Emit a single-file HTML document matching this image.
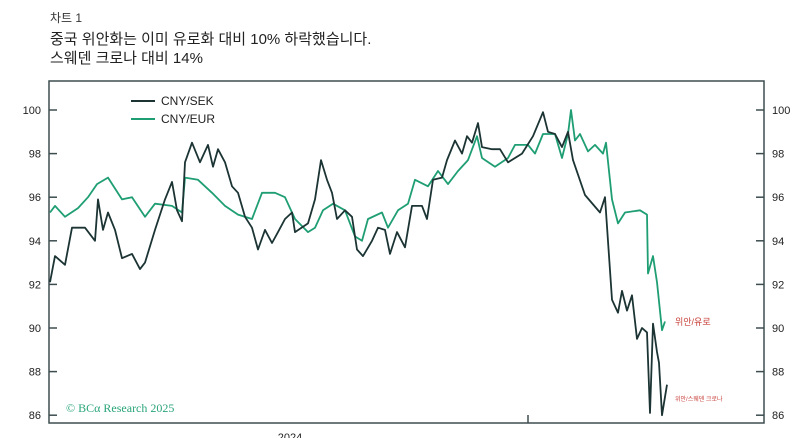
<!DOCTYPE html>
<html><head><meta charset="utf-8">
<style>
html,body{margin:0;padding:0;background:#fff;}
body{width:804px;height:438px;overflow:hidden;position:relative;font-family:"Liberation Sans","Noto Sans CJK KR",sans-serif;}
.t{position:absolute;color:#222;white-space:nowrap;}
</style></head>
<body>
<div class="t" style="left:50px;top:9px;font-size:12px;color:#333;">차트 1</div>
<div class="t" style="left:50px;top:30px;font-size:15px;line-height:19px;color:#222;">중국 위안화는 이미 유로화 대비 10% 하락했습니다.<br>스웨덴 크로나 대비 14%</div>
<svg id="chart" width="804" height="438" style="position:absolute;left:0;top:0;" xmlns="http://www.w3.org/2000/svg"></svg>
<script>
const sekDays=[0,5,15,22,35,45,48,53,58,65,72,82,90,95,105,115,122,127,132,135,142,150,158,163,168,175,182,188,195,202,208,215,222,228,235,242,245,258,265,271,277,282,287,295,302,307,313,322,328,335,340,347,355,362,372,377,383,392,397,405,412,417,422,428,432,442,450,458,472,483,493,498,505,512,518,523,535,550,555,562,568,572,577,582,587,592,597,600,603,607,609,612,617];
const sekValues=[92.1,93.3,92.9,94.6,94.6,94.0,95.9,94.5,95.3,94.5,93.2,93.4,92.7,93.0,94.5,95.9,96.7,95.4,94.9,97.6,98.5,97.6,98.4,97.4,98.2,97.6,96.5,96.2,95.1,94.6,93.6,94.5,93.9,94.4,95.0,95.3,94.4,94.8,95.9,97.7,96.8,96.2,95.0,95.4,95.1,93.6,93.3,94.0,94.6,94.5,93.4,94.4,93.7,95.6,95.6,95.0,96.8,96.9,97.7,98.6,98.0,98.8,98.5,99.4,98.3,98.2,98.2,97.6,98.0,98.8,99.9,99.0,98.9,98.3,99.0,97.7,96.1,95.3,96.0,91.3,90.7,91.7,90.8,91.5,89.5,90.0,89.8,86.1,90.2,88.9,88.4,86.0,87.4];
const eurDays=[0,5,15,28,38,47,58,72,82,95,105,122,132,135,148,162,175,188,202,212,225,235,245,258,265,273,283,295,305,312,318,332,338,348,358,365,378,388,398,408,418,427,432,445,458,465,478,485,493,505,512,518,521,525,530,538,545,553,556,562,568,575,590,597,598,603,607,612,615];
const eurValues=[95.3,95.6,95.1,95.5,96.0,96.6,96.9,95.9,96.0,95.1,95.7,95.6,95.3,96.9,96.8,96.2,95.6,95.2,95.0,96.2,96.2,96.0,95.0,94.4,94.6,95.4,95.7,95.4,94.2,94.0,95.0,95.3,94.6,95.4,95.7,96.8,96.5,97.2,96.6,97.2,97.7,98.8,97.8,97.4,97.8,98.4,98.4,98.0,98.9,98.9,97.8,98.9,100.0,98.6,98.9,98.1,98.4,98.0,98.5,95.9,94.8,95.3,95.4,95.2,92.5,93.3,92.1,89.9,90.3];
const yTicks=[86,88,90,92,94,96,98,100];

const svg=document.getElementById('chart');
const NS='http://www.w3.org/2000/svg';
const L=49,R=764,T=81,B=423;
const xS=d=>50+d*(617/617);
const yS=v=>110+(100-v)*21.8;
function mk(tag,attrs){const e=document.createElementNS(NS,tag);for(const k in attrs)e.setAttribute(k,attrs[k]);svg.appendChild(e);return e;}
const frame=mk('rect',{x:L,y:T,width:R-L,height:B-T,fill:'none',stroke:'#3d4d4f','stroke-width':1.5});


yTicks.forEach(v=>{
  const y=yS(v);
  const tl=mk('line',{x1:L,x2:L+8,y1:y,y2:y,stroke:'#3d4d4f','stroke-width':1.5});
  
  
  const tr=mk('line',{x1:R-8,x2:R,y1:y,y2:y,stroke:'#3d4d4f','stroke-width':1.5});
  
  
  const a=mk('text',{x:41,y:y+4,'text-anchor':'end','font-size':11,fill:'#222','font-family':'Liberation Sans, sans-serif'});
  a.textContent=v;
  
  
  const b=mk('text',{x:772,y:y+4,'font-size':11,fill:'#222','font-family':'Liberation Sans, sans-serif'});
  b.textContent=v;
  
  
});
const xt=mk('line',{x1:xS(478),x2:xS(478),y1:B-8,y2:B,stroke:'#3d4d4f','stroke-width':1.5});


const yr=mk('text',{x:290,y:441,'text-anchor':'middle','font-size':11,fill:'#222','font-family':'Liberation Sans, sans-serif'});
yr.textContent='2024';


function series(days,vals,color,name){
  const d=days.map((t,i)=>(i?'L':'M')+xS(t).toFixed(1)+','+yS(vals[i]).toFixed(1)).join('');
  const p=mk('path',{d:d,fill:'none',stroke:color,'stroke-width':1.8,'stroke-linejoin':'round'});
  
  
}
series(eurDays,eurValues,'#1f9e74','cny-eur-line');
series(sekDays,sekValues,'#1c3434','cny-sek-line');
[['CNY/SEK','#1c3434',101],['CNY/EUR','#1f9e74',119]].forEach(([lab,c,y])=>{
  const l=mk('line',{x1:131,x2:155,y1:y,y2:y,stroke:c,'stroke-width':2});
  
  
  const t=mk('text',{x:161,y:y+4,'font-size':12,fill:'#222','font-family':'Liberation Sans, sans-serif'});
  t.textContent=lab;
  
  
});
const a1=mk('text',{x:675,y:325,'font-size':9,fill:'#c8403a','font-family':'Liberation Sans, Noto Sans CJK KR, sans-serif'});
a1.textContent='위안/유로';


const a2=mk('text',{x:675,y:401,'font-size':6,fill:'#c8403a','font-family':'Liberation Sans, Noto Sans CJK KR, sans-serif'});
a2.textContent='위안/스웨덴 크로나';


const cp=mk('text',{x:66,y:412,'font-size':12,fill:'#2aa57a','font-family':'Liberation Serif, serif'});
cp.textContent='© BCα Research 2025';


</script>
</body></html>
